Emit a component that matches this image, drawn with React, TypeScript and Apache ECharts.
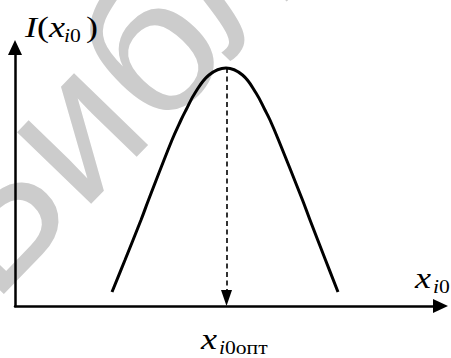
import React, { useEffect, useRef } from "react";
import * as echarts from "echarts";

// Curve I(x_i0): values (1 unit = 1 px from the origin)
const curveX = [97, 110, 126, 133.5, 157, 166, 171, 180, 194, 211, 227.5, 241, 250, 255, 263.5, 287.5, 295, 310.5, 323];
const curveY = [14, 46, 86, 106, 166, 186, 196, 213, 231, 238, 231, 213, 196, 186, 166, 106, 86, 46, 14];
const xOpt = 211.5;
const iMax = 238;
const xAxisMax = 425.5;
const yAxisMax = 258.5;

// Labels
const yName = { main: "I(x", sub: "i0", close: ")" };
const xName = { main: "x", sub: "i0" };
const optName = { main: "x", sub: "i0опт" };
const watermark = "Библиотека БГУИР";

const SERIF = "'Liberation Serif', 'Times New Roman', serif";
const MAIN = 30;
const SUB = 18;
const SX = 1.2;

function piece(x: number, baseline: number, size: number, text: string, rich: any) {
  return {
    type: "text",
    x,
    y: baseline - 0.3375 * size,
    scaleX: SX,
    silent: true,
    z: 10,
    style: {
      text,
      rich,
      fontSize: size,
      fontFamily: SERIF,
      fill: "#000",
      align: "left",
      verticalAlign: "middle",
    },
  };
}

function richFor(size: number) {
  return {
    it: { fontStyle: "italic", fontSize: size, fontFamily: SERIF, fill: "#000" },
    n: { fontStyle: "normal", fontSize: size, fontFamily: SERIF, fill: "#000" },
  };
}

export default function App() {
  const ref = useRef<HTMLDivElement>(null);
  useEffect(() => {
    if (!ref.current) return;
    const chart = echarts.init(ref.current, undefined, { renderer: "svg" });
    const data = curveX.map((x, i) => [x, curveY[i]]);
    const axisCommon = {
      type: "value",
      min: 0,
      axisLine: {
        show: true,
        onZero: false,
        symbol: ["none", "triangle"],
        symbolSize: [14, 15],
        lineStyle: { color: "#000", width: 2.5 },
      },
      axisTick: { show: false },
      axisLabel: { show: false },
      splitLine: { show: false },
    };
    chart.setOption({
      animation: false,
      backgroundColor: "#fff",
      grid: { left: 15, top: 47.5, width: xAxisMax, height: yAxisMax, outerBoundsMode: "none" },
      xAxis: { ...axisCommon, max: xAxisMax },
      yAxis: { ...axisCommon, max: yAxisMax },
      series: [
        {
          type: "line",
          data,
          showSymbol: false,
          smooth: 0.4,
          z: 3,
          lineStyle: { color: "#000", width: 3, cap: "butt" },
          markLine: {
            silent: true,
            symbol: ["none", "triangle"],
            symbolSize: [11, 16],
            label: { show: false },
            lineStyle: { color: "#000", width: 1.6, type: [5, 3.5] },
            data: [[{ coord: [xOpt, iMax] }, { coord: [xOpt, 8] }]],
          },
        },
      ],
      graphic: [
        {
          type: "text",
          x: 14,
          y: 326,
          rotation: (46 * Math.PI) / 180,
          silent: true,
          z: -10,
          style: {
            text: watermark,
            fontSize: 195,
            fontFamily: "'Liberation Sans', Arial, sans-serif",
            fill: "#cccccc",
            align: "left",
            verticalAlign: "bottom",
          },
        },
        piece(25, 37, MAIN, `{it|I}{n|(}{it|${yName.main.slice(2)}}`, richFor(MAIN)),
        piece(64, 42, SUB, `{it|${yName.sub[0]}}{n|${yName.sub.slice(1)}}`, richFor(SUB)),
        piece(86, 37, MAIN, `{n|${yName.close}}`, richFor(MAIN)),
        piece(415, 288, MAIN, `{it|${xName.main}}`, richFor(MAIN)),
        piece(433, 293, SUB, `{it|${xName.sub[0]}}{n|${xName.sub.slice(1)}}`, richFor(SUB)),
        piece(201, 349, MAIN, `{it|${optName.main}}`, richFor(MAIN)),
        piece(219, 354, SUB, `{it|${optName.sub[0]}}{n|${optName.sub.slice(1)}}`, richFor(SUB)),
      ],
    });
    return () => chart.dispose();
  }, []);
  return (
    <div
      ref={ref}
      style={{ position: "fixed", left: 0, top: 0, width: 451, height: 358 }}
    />
  );
}
